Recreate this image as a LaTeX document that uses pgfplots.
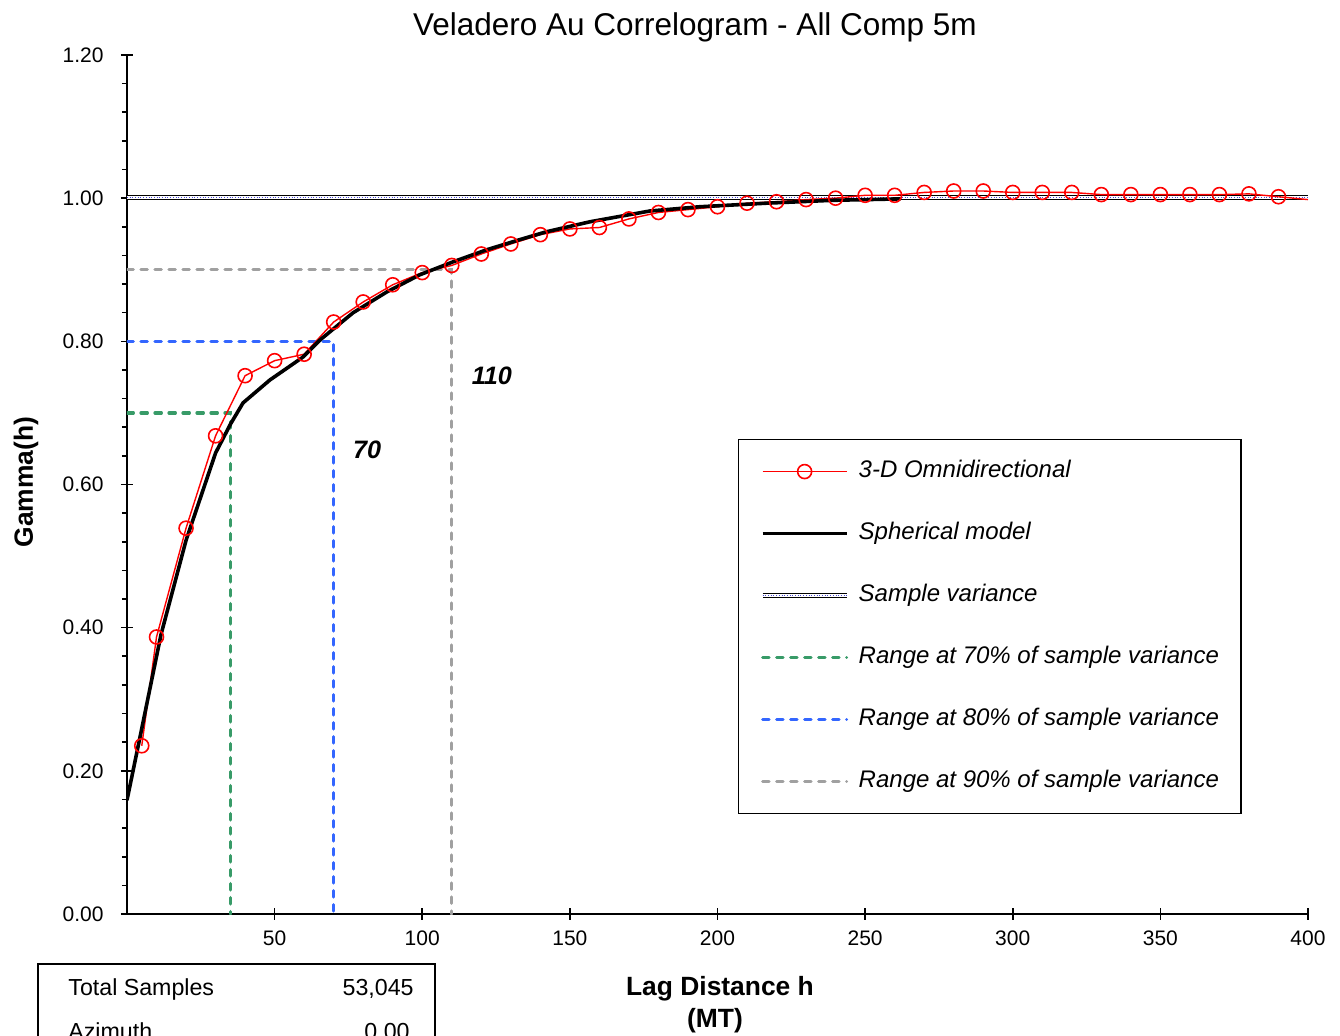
\documentclass[border=0pt]{standalone}
\usepackage{pgfplots}
\pgfplotsset{compat=1.18}
\usepackage{fontspec}
\setmainfont{Liberation Sans}
\definecolor{rgreen}{RGB}{56,155,104}
\definecolor{rblue}{RGB}{51,102,255}
\definecolor{rgray}{RGB}{160,160,160}
\definecolor{varblue}{RGB}{70,70,210}

\begin{document}
\begin{tikzpicture}
\useasboundingbox (-63.5pt,-60.5pt) rectangle (606.5pt,457pt);
\begin{axis}[
    at={(0pt,0pt)}, anchor=south west,
    scale only axis, width=590.5pt, height=429.5pt,
    xmin=0, xmax=400, ymin=0, ymax=1.2,
    axis lines=left, axis line style={-, line width=0.8pt},
    xtick={50,100,150,200,250,300,350,400},
    ytick={0,0.2,0.4,0.6,0.8,1.0,1.2},
    minor y tick num=4,
    tick align=center, major tick length=6pt, minor tick length=2.5pt,
    every tick/.style={black, line width=0.8pt},
    every minor tick/.append style={xshift=-1.25pt},
    /pgf/number format/assume math mode=true,
    tick label style={font=\fontsize{10.5}{12}\selectfont},
    xticklabel style={anchor=north, inner sep=0pt, yshift=-5pt},
    yticklabel style={anchor=east, inner sep=0pt, xshift=-8.5pt,
        /pgf/number format/.cd, fixed, fixed zerofill, precision=2},
    rangeline/.style={line width=1.6pt, line cap=round, dash pattern=on 3.2pt off 3.8pt},
    legend cell align=left,
    legend image code/.code={\draw[mark repeat=2,mark phase=2,#1]
        plot coordinates {(0pt,0pt) (21pt,0pt) (42pt,0pt)};},
    legend style={at={(0.5173,0.553)}, anchor=north west, draw=black,
        line width=0.6pt, fill=white,
        font=\fontsize{12}{14}\selectfont\itshape,
        inner xsep=11pt, inner ysep=10pt, row sep=19pt, column sep=5pt,
        nodes={inner sep=0pt, text height=9pt, text depth=3pt}},
]

% range lines
\addplot[rgreen, rangeline, forget plot] coordinates {(0,0.7) (35,0.7) (35,0)};
\addplot[rblue, rangeline, forget plot] coordinates {(0,0.8) (70,0.8) (70,0)};
\addplot[rgray, rangeline, forget plot] coordinates {(0,0.9) (110,0.9) (110,0)};

% sample variance
\addplot[black, line width=0.45pt, double=white, double distance=1.2pt, forget plot]
  coordinates {(0,1.001) (400,1.001)};
\addplot[varblue, densely dotted, line width=0.35pt, forget plot]
  coordinates {(0,1.001) (400,1.001)};

% experimental correlogram
\addplot[red, line width=0.7pt, mark=o, mark size=3.5pt, mark options={solid, line width=0.8pt}]
  coordinates {
  (5,0.235) (10,0.387) (20,0.539) (30,0.668) (40,0.752) (50,0.773) (60,0.782)
  (70,0.827) (80,0.855) (90,0.879) (100,0.896) (110,0.906) (120,0.922) (130,0.936)
  (140,0.949) (150,0.957) (160,0.959) (170,0.971) (180,0.980) (190,0.984) (200,0.988)
  (210,0.993) (220,0.995) (230,0.998) (240,1.000) (250,1.004) (260,1.004) (270,1.008)
  (280,1.010) (290,1.010) (300,1.008) (310,1.008) (320,1.008) (330,1.005) (340,1.005)
  (350,1.005) (360,1.005) (370,1.005) (380,1.006) (390,1.002)
  };
\addlegendentry{3-D Omnidirectional}
\addplot[red, line width=0.7pt, forget plot] coordinates {(390,1.002) (400,0.998)};

% spherical model
\addplot[black, line width=1.8pt] coordinates {
  (0,0.159) (4.4,0.247) (11.5,0.390) (20,0.522) (30,0.644) (35,0.684) (39.3,0.714)
  (48.4,0.746) (59.6,0.778) (65.4,0.802) (76.6,0.840) (88,0.869) (99.2,0.893)
  (110.4,0.911) (121.9,0.928) (133,0.942) (142,0.953) (156.8,0.967) (177,0.982)
  (194,0.988) (216.7,0.993) (239,0.997) (262,0.999)
  };
\addlegendentry{Spherical model}

\addlegendimage{legend image code/.code={
    \draw[black, line width=0.45pt, double=white, double distance=1.2pt] (0pt,0pt) -- (42pt,0pt);
    \draw[varblue, densely dotted, line width=0.35pt] (0pt,0pt) -- (42pt,0pt);}}
\addlegendentry{Sample variance}
\addlegendimage{rgreen, rangeline}
\addlegendentry{Range at 70\% of sample variance}
\addlegendimage{rblue, rangeline}
\addlegendentry{Range at 80\% of sample variance}
\addlegendimage{rgray, rangeline}
\addlegendentry{Range at 90\% of sample variance}

\node[font=\fontsize{12.6}{14}\selectfont\bfseries\itshape] at (axis cs:81.3,0.648) {70};
\node[font=\fontsize{12.6}{14}\selectfont\bfseries\itshape] at (axis cs:123.6,0.752) {110};
\end{axis}

% title and axis labels
\node[anchor=base, font=\fontsize{15.75}{18}\selectfont] at (284pt,439pt)
  {Veladero Au Correlogram - All Comp 5m};
\node[anchor=base, font=\fontsize{13.2}{16}\selectfont\bfseries] at (296.5pt,-40.5pt) {Lag Distance h};
\node[anchor=base, font=\fontsize{13.2}{16}\selectfont\bfseries] at (294pt,-56.5pt) {(MT)};
\node[rotate=90, font=\fontsize{13.2}{16}\selectfont\bfseries] at (-50.5pt,216pt) {Gamma(h)};

% statistics box
\draw[line width=0.6pt] (-44.5pt,-100pt) -- (-44.5pt,-25pt) -- (154pt,-25pt) -- (154pt,-100pt);
\node[anchor=base west, inner sep=0pt, font=\fontsize{11.6}{14}\selectfont] at (-29.5pt,-40.5pt) {Total Samples};
\node[anchor=base east, inner sep=0pt, font=\fontsize{11.6}{14}\selectfont] at (143.5pt,-40.5pt) {53,045};
\node[anchor=base west, inner sep=0pt, font=\fontsize{11.6}{14}\selectfont] at (-29.5pt,-62.5pt) {Azimuth};
\node[anchor=base east, inner sep=0pt, font=\fontsize{11.6}{14}\selectfont] at (141.5pt,-62.5pt) {0.00};
\end{tikzpicture}
\end{document}
